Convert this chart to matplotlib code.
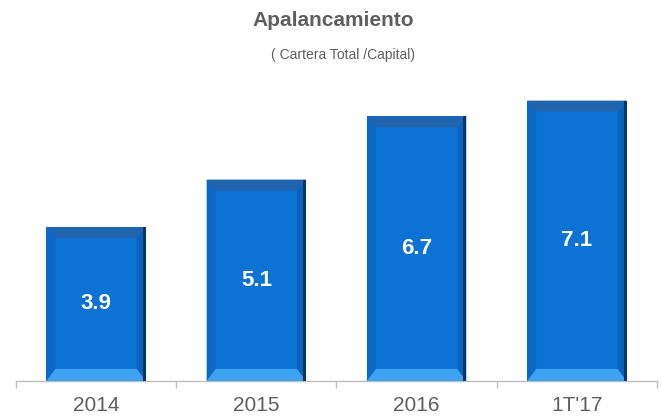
import matplotlib
matplotlib.use("Agg")
import matplotlib.pyplot as plt
from matplotlib.patches import Polygon, Rectangle

plt.rcParams['font.family'] = ['Liberation Sans', 'DejaVu Sans']

categories = ["2014", "2015", "2016", "1T'17"]
values = [3.9, 5.1, 6.7, 7.1]

title = "Apalancamiento"
subtitle = "( Cartera Total /Capital)"

FACE = "#0C72D4"
TOP_BEVEL = "#2164AE"
BOTTOM_BEVEL = "#3DA2F2"
LEFT_BEVEL = "#0B68C6"
RIGHT_BEVEL = "#0A62BC"
RIGHT_EDGE = "#0A3566"
TEXT_GRAY = "#5E5E5E"
AXIS_GRAY = "#BDBDBD"

fig = plt.figure(figsize=(6.63, 4.20), dpi=100)
ax = fig.add_axes([0.024, 0.093, 0.967, 0.705])
ax.set_xlim(-0.5, len(categories) - 0.5)
ax.set_ylim(0, 7.5)

bar_w = 0.62
# bevel sizes expressed in pixels, converted to data units
fig.canvas.draw()
ax_w_px = ax.get_window_extent().width
ax_h_px = ax.get_window_extent().height
px_x = (ax.get_xlim()[1] - ax.get_xlim()[0]) / ax_w_px
px_y = (ax.get_ylim()[1] - ax.get_ylim()[0]) / ax_h_px
bx = 9 * px_x
by_top = 11 * px_y
by_bot = 12 * px_y
edge = 3 * px_x

for i, v in enumerate(values):
    x0, x1 = i - bar_w / 2, i + bar_w / 2
    # main face
    ax.add_patch(Rectangle((x0, 0), bar_w, v, facecolor=FACE, edgecolor="none", zorder=2))
    # left bevel
    ax.add_patch(Polygon([(x0, 0), (x0 + bx, by_bot), (x0 + bx, v - by_top), (x0, v)],
                         closed=True, facecolor=LEFT_BEVEL, edgecolor="none", zorder=3))
    # right bevel
    ax.add_patch(Polygon([(x1, 0), (x1 - bx, by_bot), (x1 - bx, v - by_top), (x1, v)],
                         closed=True, facecolor=RIGHT_BEVEL, edgecolor="none", zorder=3))
    # top bevel
    ax.add_patch(Polygon([(x0, v), (x1, v), (x1 - bx, v - by_top), (x0 + bx, v - by_top)],
                         closed=True, facecolor=TOP_BEVEL, edgecolor="none", zorder=3))
    # bottom bevel
    ax.add_patch(Polygon([(x0, 0), (x1, 0), (x1 - bx, by_bot), (x0 + bx, by_bot)],
                         closed=True, facecolor=BOTTOM_BEVEL, edgecolor="none", zorder=3))
    # dark right edge
    ax.add_patch(Rectangle((x1 - edge, 0), edge, v, facecolor=RIGHT_EDGE,
                           edgecolor="none", zorder=4))
    # value label
    ax.text(i, v / 2, f"{v:.1f}", ha="center", va="center", color="white",
            fontsize=16, fontweight="bold", zorder=5)

for s in ["top", "right", "left"]:
    ax.spines[s].set_visible(False)
ax.spines["bottom"].set_color(AXIS_GRAY)
ax.spines["bottom"].set_linewidth(1.0)
ax.spines["bottom"].set_zorder(1)

ax.set_yticks([])
ax.set_xticks([i - 0.5 for i in range(len(categories) + 1)])
ax.set_xticklabels([])
ax.tick_params(axis="x", length=5, color=AXIS_GRAY, width=1.0)
ax.set_xticks(range(len(categories)), minor=True)
ax.set_xticklabels(categories, minor=True)
ax.tick_params(axis="x", which="minor", length=0, pad=11, labelsize=15, labelcolor=TEXT_GRAY)

fig.text(0.502, 0.952, title, ha="center", va="center", fontsize=15,
         fontweight="bold", color=TEXT_GRAY)
fig.text(0.517, 0.869, subtitle, ha="center", va="center", fontsize=10,
         color=TEXT_GRAY)

fig.savefig("out.png", dpi=100, facecolor="white")
